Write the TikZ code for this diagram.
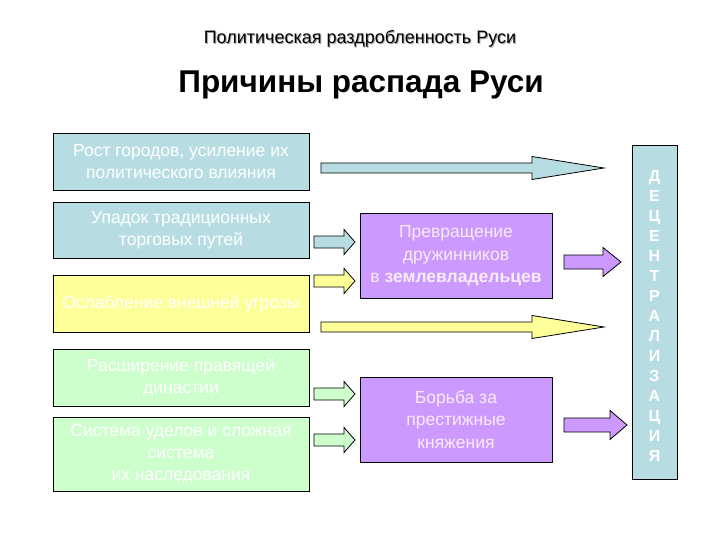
\documentclass[tikz,border=0pt]{standalone}
\usepackage{fontspec}
\setmainfont{Liberation Sans}
\usetikzlibrary{calc}
\definecolor{cblue}{HTML}{B7DDE3}
\definecolor{cyel}{HTML}{FFFF99}
\definecolor{cgreen}{HTML}{CCFFCC}
\definecolor{cpurp}{HTML}{CC99FF}
\definecolor{ctxt}{HTML}{F8ECF8}
\newcommand\blockarr[6]{%
  \filldraw[fill=#1,draw=black,line width=0.8pt] let \p1=(#2), \p2=(#3) in
  (\x1,\y1+#5pt) -- (\x2-#4pt,\y1+#5pt) -- (\x2-#4pt,\y1+#6pt) -- (\x2,\y1)
  -- (\x2-#4pt,\y1-#6pt) -- (\x2-#4pt,\y1-#5pt) -- (\x1,\y1-#5pt) -- cycle;}
\begin{document}
\begin{tikzpicture}[x=1pt,y=-1pt,
  box/.style={draw=black, line width=0.8pt, minimum width=256pt, inner sep=2pt,
    text=white, align=center, font=\fontsize{17.5}{22}\selectfont},
  pbox/.style={draw=black, line width=0.8pt, fill=cpurp, minimum width=192pt,
    minimum height=85pt, inner sep=2pt, text=ctxt, align=center,
    font=\fontsize{17.5}{22.5}\selectfont}]
\useasboundingbox[fill=white] (0,0) rectangle (720,540);

% titles
\node[anchor=base, text=black!35, font=\fontsize{18}{20}\selectfont] (t1s) at (361,45) {Политическая раздробленность Руси};
\node[anchor=base, font=\fontsize{18}{20}\selectfont] (t1) at (360,44) {Политическая раздробленность Руси};
\node[anchor=base, font=\bfseries\fontsize{31.5}{34}\selectfont] (t2) at (361,93) {Причины распада Руси};

% left boxes
\node[box, fill=cblue, minimum height=57pt] (b1) at (181,161.5) {Рост городов, усиление их\\политического влияния};
\node[box, fill=cblue, minimum height=56pt] (b2) at (181,230) {Упадок традиционных\\торговых путей};
\node[box, fill=cyel, minimum height=57pt] (b3) at (181,303.5) {Ослабление внешней угрозы};
\node[box, fill=cgreen, minimum height=57pt] (b4) at (181,377.5) {Расширение правящей\\династии};
\node[box, fill=cgreen, minimum height=74pt] (b5) at (181,454) {Система уделов и сложная\\система\\их наследования};

% purple boxes
\node[pbox] (p1) at (456,256) {Превращение\\дружинников\\в \textbf{землевладельцев}};
\node[pbox] (p2) at (456,419.5) {Борьба за\\престижные\\княжения};

% right column
\node[draw=black, line width=0.8pt, fill=cblue, minimum width=45pt, minimum height=334pt, inner sep=0pt] (col) at (654.5,312) {};
\node[text=white, align=center, inner sep=0pt, font=\bfseries\fontsize{16}{20}\selectfont] (coltext) at (654.5,316)
  {Д\\Е\\Ц\\Е\\Н\\Т\\Р\\А\\Л\\И\\З\\А\\Ц\\И\\Я};

% arrow coordinates
\coordinate (a1s) at (321,168); \coordinate (a1e) at (604,168);
\coordinate (a6s) at (321,327); \coordinate (a6e) at (604,327);
\coordinate (a2s) at (314,242); \coordinate (a2e) at (355,242);
\coordinate (a3s) at (314,281); \coordinate (a3e) at (355,281);
\coordinate (a4s) at (314,394); \coordinate (a4e) at (355,394);
\coordinate (a5s) at (314,440); \coordinate (a5e) at (355,440);
\coordinate (a7s) at (564,262); \coordinate (a7e) at (621,262);
\coordinate (a8s) at (564,425); \coordinate (a8e) at (627,425);

\blockarr{cblue}{a1s}{a1e}{72}{5}{11.5}
\blockarr{cyel}{a6s}{a6e}{72}{5}{11.5}
\blockarr{cblue}{a2s}{a2e}{11}{6}{12.5}
\blockarr{cyel}{a3s}{a3e}{11}{6}{12.5}
\blockarr{cgreen}{a4s}{a4e}{11}{6}{12.5}
\blockarr{cgreen}{a5s}{a5e}{11}{6}{12.5}
\blockarr{cpurp}{a7s}{a7e}{18}{7}{14.5}
\blockarr{cpurp}{a8s}{a8e}{17}{7}{14.5}
\end{tikzpicture}
\end{document}
